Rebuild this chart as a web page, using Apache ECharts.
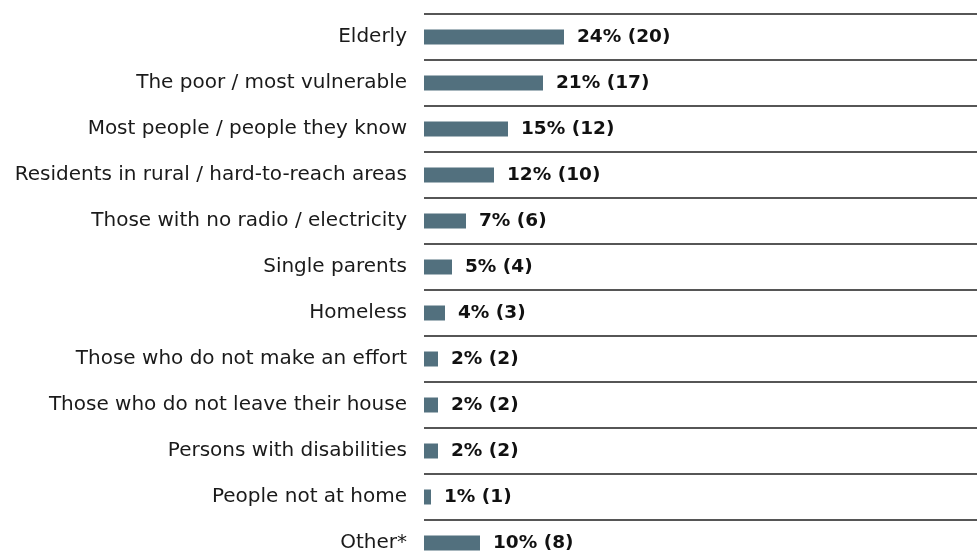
<!DOCTYPE html>
<html>
<head>
<meta charset="utf-8">
<script src="https://cdn.jsdelivr.net/npm/echarts@6/dist/echarts.min.js"></script>
<style>
  html, body { margin: 0; padding: 0; background: #fff; }
  #chart { width: 977px; height: 554px; }
</style>
</head>
<body>
<div id="chart"></div>
<script>
// Groups mentioned, with share of responses and response counts
const categories = [
  'Elderly',
  'The poor / most vulnerable',
  'Most people / people they know',
  'Residents in rural / hard-to-reach areas',
  'Those with no radio / electricity',
  'Single parents',
  'Homeless',
  'Those who do not make an effort',
  'Those who do not leave their house',
  'Persons with disabilities',
  'People not at home',
  'Other*'
];
const percents = [24, 21, 15, 12, 7, 5, 4, 2, 2, 2, 1, 10];
const counts = [20, 17, 12, 10, 6, 4, 3, 2, 2, 2, 1, 8];

const chart = echarts.init(document.getElementById('chart'));
chart.setOption({
  animation: false,
  grid: { left: 424, right: 0, top: 14, bottom: -12, outerBoundsMode: 'none', containLabel: false },
  xAxis: {
    type: 'value',
    min: 0,
    max: 79,
    show: false
  },
  yAxis: {
    type: 'category',
    data: categories,
    inverse: true,
    axisLine: { show: false },
    axisTick: { show: false },
    axisLabel: {
      margin: 17,
      fontFamily: 'DejaVu Sans',
      fontSize: 20,
      color: '#1a1a1a'
    },
    splitLine: { show: true, lineStyle: { color: '#1e1e1e', width: 1.5 } }
  },
  series: [{
    type: 'bar',
    data: counts,
    barWidth: 15,
    itemStyle: { color: '#52707e' },
    label: {
      show: true,
      position: 'right',
      distance: 13,
      fontFamily: 'DejaVu Sans',
      fontWeight: 'bold',
      fontSize: 18.5,
      color: '#111',
      formatter: p => percents[p.dataIndex] + '% (' + counts[p.dataIndex] + ')'
    }
  }]
});
</script>
</body>
</html>
